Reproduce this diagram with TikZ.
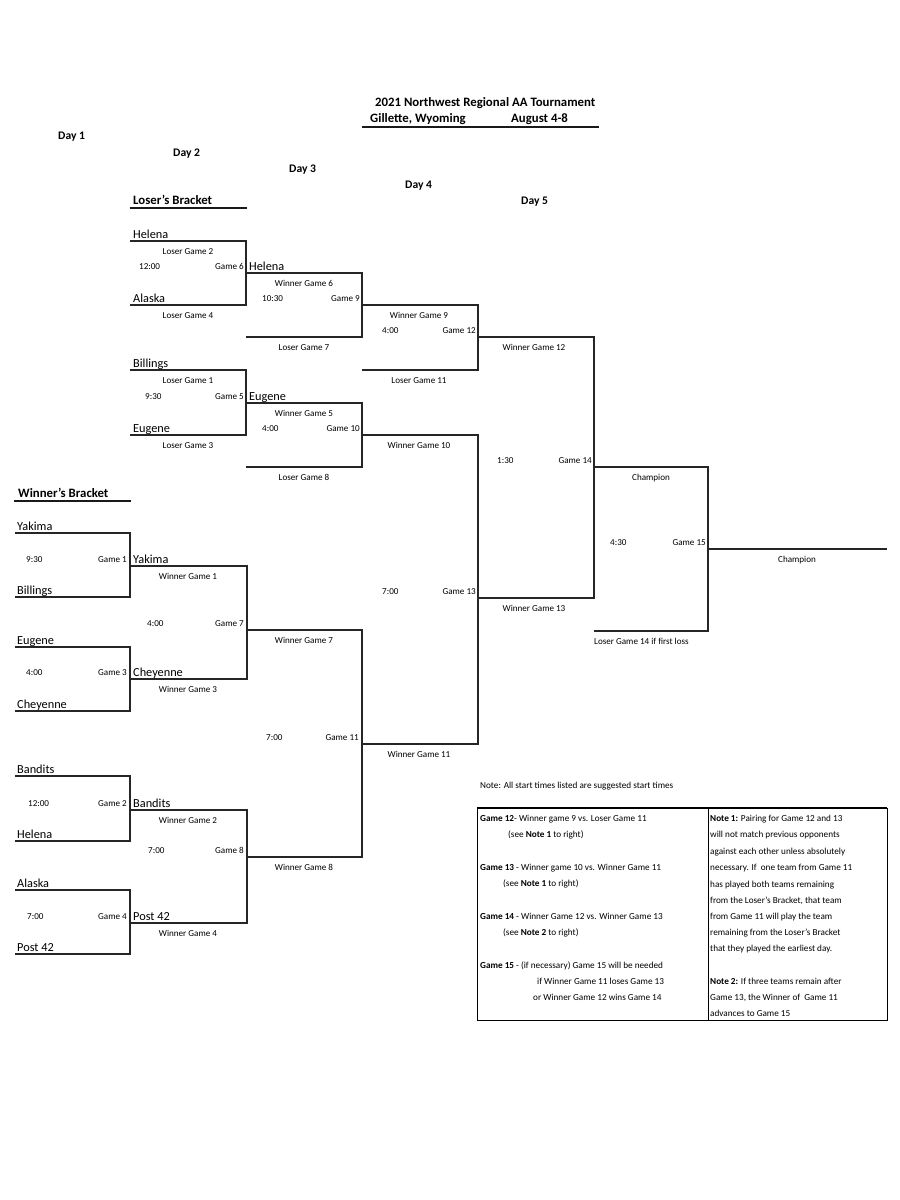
\documentclass[tikz,border=0pt]{standalone}
\usepackage{fontspec}
\setmainfont{Carlito}
\usepackage{tikz}

\tikzset{
  team/.style={anchor=base west, inner sep=0pt, font=\fontsize{12.3}{14}\selectfont},
  lbl/.style={anchor=base, inner sep=0pt, font=\fontsize{9.1}{10}\selectfont},
  tm/.style={anchor=base west, inner sep=0pt, font=\fontsize{9.1}{10}\selectfont},
  gm/.style={anchor=base east, inner sep=0pt, font=\fontsize{9.1}{10}\selectfont},
  head/.style={anchor=base west, inner sep=0pt, font=\bfseries\fontsize{12.8}{14}\selectfont},
  day/.style={anchor=base west, inner sep=0pt, font=\bfseries\fontsize{11.6}{13}\selectfont},
  txt/.style={anchor=base west, inner sep=0pt, font=\fontsize{9.2}{10}\selectfont},
  bline/.style={line width=1.2pt, black!85},
  uline/.style={line width=2.2pt, black!90},
}

\begin{document}
\begin{tikzpicture}[x=1pt, y=-1pt]
    \useasboundingbox (0,0) rectangle (900,1200);

    % header
    \node[head] (title) at (375,106) {2021 Northwest Regional AA Tournament};
    \node[head] (place) at (370,122) {Gillette, Wyoming};
    \node[head] (dates) at (511,122) {August 4-8};
    \draw[uline] (362,127) -- (599,127);
    \node[day] (day1) at (58,139) {Day 1};
    \node[day] (day2) at (173,156) {Day 2};
    \node[day] (day3) at (289,172) {Day 3};
    \node[day] (day4) at (405,188) {Day 4};
    \node[day] (day5) at (521,204) {Day 5};
    \node[head] (losers) at (133,204) {Loser's Bracket};
    \draw[uline] (130,208) -- (247,208);
    \node[head] (winners) at (18,497) {Winner's Bracket};
    \draw[uline] (14,501) -- (131,501);

    % loser's bracket, game 6
    \draw[bline] (130,241) -- (246,241) -- (246,305) -- (130,305);
    \node[team] (helenaL) at (133,238) {Helena};
    \node[lbl] (lg2) at (188,254) {Loser Game 2};
    \node[tm] (t6) at (139,269.5) {12:00};
    \node[gm] (g6) at (244,269.5) {Game 6};
    \node[team] (alaskaL) at (133,302) {Alaska};
    \node[lbl] (lg4) at (188,318) {Loser Game 4};

    % game 9
    \draw[bline] (246,273) -- (362,273) -- (362,337) -- (246,337);
    \node[team] (helenaW6) at (249,270) {Helena};
    \node[lbl] (wg6) at (304,286) {Winner Game 6};
    \node[tm] (t9) at (262,301.5) {10:30};
    \node[gm] (g9) at (360,301.5) {Game 9};
    \node[lbl] (lg7) at (304,350) {Loser Game 7};

    % game 5
    \draw[bline] (130,370) -- (246,370) -- (246,435) -- (130,435);
    \node[team] (billingsL) at (133,367) {Billings};
    \node[lbl] (lg1) at (188,383) {Loser Game 1};
    \node[tm] (t5) at (145,399.5) {9:30};
    \node[gm] (g5) at (244,399.5) {Game 5};
    \node[team] (eugeneL) at (133,432) {Eugene};
    \node[lbl] (lg3) at (188,448) {Loser Game 3};

    % game 10
    \draw[bline] (246,403) -- (362,403) -- (362,467) -- (246,467);
    \node[team] (eugeneW5) at (249,400) {Eugene};
    \node[lbl] (wg5) at (304,416) {Winner Game 5};
    \node[tm] (t10) at (262,431.5) {4:00};
    \node[gm] (g10) at (360,431.5) {Game 10};
    \node[lbl] (lg8) at (304,480) {Loser Game 8};

    % game 12
    \draw[bline] (362,305) -- (478,305) -- (478,370) -- (362,370);
    \node[lbl] (wg9) at (419,318) {Winner Game 9};
    \node[tm] (t12) at (382,333.5) {4:00};
    \node[gm] (g12) at (476,333.5) {Game 12};
    \node[lbl] (lg11) at (419,383) {Loser Game 11};

    % game 13
    \draw[bline] (362,435) -- (478,435) -- (478,744) -- (362,744);
    \node[lbl] (wg10) at (419,448) {Winner Game 10};
    \node[tm] (t13) at (382,594.5) {7:00};
    \node[gm] (g13) at (476,594.5) {Game 13};
    \node[lbl] (wg11) at (419,757) {Winner Game 11};

    % game 14
    \draw[bline] (478,337) -- (594,337) -- (594,598) -- (478,598);
    \node[lbl] (wg12) at (534,350) {Winner Game 12};
    \node[tm] (t14) at (497,463.5) {1:30};
    \node[gm] (g14) at (592,463.5) {Game 14};
    \node[lbl] (wg13) at (534,611) {Winner Game 13};

    % game 15
    \draw[bline] (594,467) -- (708,467) -- (708,631) -- (594,631);
    \node[lbl] (champ14) at (651,480) {Champion};
    \node[tm] (t15) at (610,545.5) {4:30};
    \node[gm] (g15) at (706,545.5) {Game 15};
    \node[tm] (lg14) at (594,644) {Loser Game 14 if first loss};
    \draw[bline] (708,549) -- (887,549);
    \node[lbl] (champ) at (797,562) {Champion};

    % winner's bracket, game 1
    \draw[bline] (15,533) -- (130,533) -- (130,597) -- (15,597);
    \node[team] (yakima) at (17,530) {Yakima};
    \node[tm] (t1) at (26,562.5) {9:30};
    \node[gm] (g1) at (127,562.5) {Game 1};
    \node[team] (billings) at (17,594) {Billings};

    % game 7
    \draw[bline] (130,566) -- (247,566) -- (247,679) -- (130,679);
    \node[team] (yakimaW1) at (133,563) {Yakima};
    \node[lbl] (wg1) at (188,579) {Winner Game 1};
    \node[tm] (t7) at (147,626.5) {4:00};
    \node[gm] (g7) at (244,626.5) {Game 7};
    \node[team] (cheyenneW3) at (133,676) {Cheyenne};
    \node[lbl] (wg3) at (188,692) {Winner Game 3};

    % game 3
    \draw[bline] (15,647) -- (130,647) -- (130,711) -- (15,711);
    \node[team] (eugene) at (17,644) {Eugene};
    \node[tm] (t3) at (26,675.5) {4:00};
    \node[gm] (g3) at (127,675.5) {Game 3};
    \node[team] (cheyenne) at (17,708) {Cheyenne};

    % game 11
    \draw[bline] (247,630) -- (362,630) -- (362,857) -- (247,857);
    \node[lbl] (wg7) at (304,643) {Winner Game 7};
    \node[tm] (t11) at (266,740.5) {7:00};
    \node[gm] (g11) at (359,740.5) {Game 11};
    \node[lbl] (wg8) at (304,870) {Winner Game 8};

    % game 2
    \draw[bline] (15,776) -- (130,776) -- (130,841) -- (15,841);
    \node[team] (bandits) at (17,773) {Bandits};
    \node[tm] (t2) at (28,806.5) {12:00};
    \node[gm] (g2) at (127,806.5) {Game 2};
    \node[team] (helena) at (17,838) {Helena};

    % game 8
    \draw[bline] (130,810) -- (247,810) -- (247,923) -- (130,923);
    \node[team] (banditsW2) at (133,807) {Bandits};
    \node[lbl] (wg2) at (188,823) {Winner Game 2};
    \node[tm] (t8) at (148,853.5) {7:00};
    \node[gm] (g8) at (244,853.5) {Game 8};
    \node[team] (postW4) at (133,920) {Post 42};
    \node[lbl] (wg4) at (188,936) {Winner Game 4};

    % game 4
    \draw[bline] (15,890) -- (130,890) -- (130,954) -- (15,954);
    \node[team] (alaska) at (17,887) {Alaska};
    \node[tm] (t4) at (27,919.5) {7:00};
    \node[gm] (g4) at (127,919.5) {Game 4};
    \node[team] (post) at (17,951) {Post 42};

    % notes
    \node[txt] (allnote) at (480,788) {Note: All start times listed are suggested start times};
    \draw[line width=1pt] (477,808) rectangle (887,1020);
    \draw[line width=2pt] (477,808) -- (887,808);
    \draw[line width=1pt] (708,808) -- (708,1020);

    \node[txt] (r12) at (480,821) {\textbf{Game 12}- Winner game 9 vs. Loser Game 11};
    \node[txt] (r12b) at (508,837) {(see \textbf{Note 1} to right)};
    \node[txt] (r13) at (480,870.5) {\textbf{Game 13} - Winner game 10 vs. Winner Game 11};
    \node[txt] (r13b) at (503,886) {(see \textbf{Note 1} to right)};
    \node[txt] (r14) at (480,919) {\textbf{Game 14} - Winner Game 12 vs. Winner Game 13};
    \node[txt] (r14b) at (503,935) {(see \textbf{Note 2} to right)};
    \node[txt] (r15) at (480,968) {\textbf{Game 15} - (if necessary) Game 15 will be needed};
    \node[txt] (r15b) at (537,984) {if Winner Game 11 loses Game 13};
    \node[txt] (r15c) at (533,1000) {or Winner Game 12 wins Game 14};

    \node[txt] (n1a) at (710,821) {\textbf{Note 1:} Pairing for Game 12 and 13};
    \node[txt] (n1b) at (710,837) {will not match previous opponents};
    \node[txt] (n1c) at (710,854) {against each other unless absolutely};
    \node[txt] (n1d) at (710,870) {necessary. If \ one team from Game 11};
    \node[txt] (n1e) at (710,887) {has played both teams remaining};
    \node[txt] (n1f) at (710,903) {from the Loser's Bracket, that team};
    \node[txt] (n1g) at (710,919) {from Game 11 will play the team};
    \node[txt] (n1h) at (710,935) {remaining from the Loser's Bracket};
    \node[txt] (n1i) at (710,951) {that they played the earliest day.};
    \node[txt] (n2a) at (710,984) {\textbf{Note 2:} If three teams remain after};
    \node[txt] (n2b) at (710,1000) {Game 13, the Winner of \ Game 11};
    \node[txt] (n2c) at (710,1016) {advances to Game 15};
\end{tikzpicture}
\end{document}
